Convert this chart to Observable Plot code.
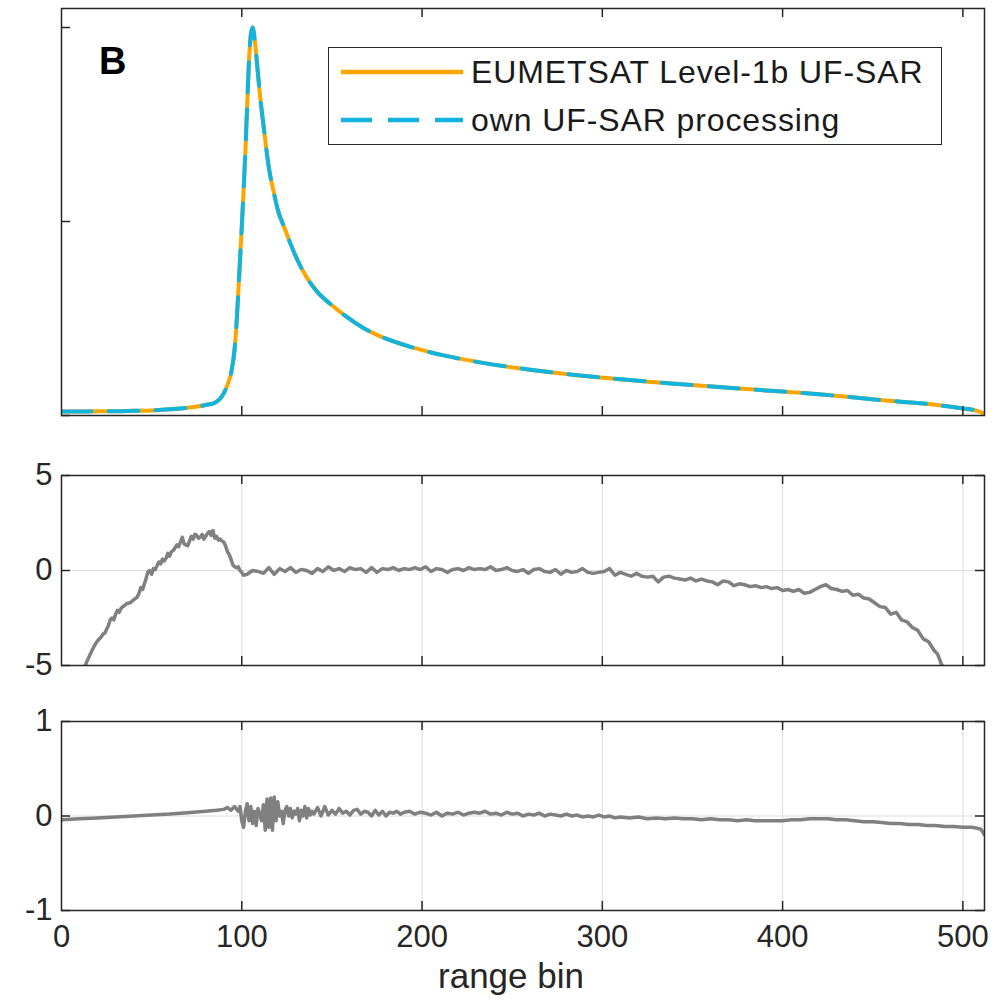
<!DOCTYPE html>
<html><head><meta charset="utf-8">
<script src="https://cdn.jsdelivr.net/npm/d3@7"></script>
<script src="https://cdn.jsdelivr.net/npm/@observablehq/plot@0.6"></script>
<style>
body{margin:0;background:#fff;font-family:"Liberation Sans",Arial,Helvetica,sans-serif;color:#262626;}
#wrap{position:relative;width:1007px;height:1001px;overflow:hidden;background:#fff;}
#wrap svg{overflow:visible;}
.abs{position:absolute;}
</style></head><body><div id="wrap"></div>
<script>
// ---------- data ----------
const xTicks = [0, 100, 200, 300, 400, 500];
const seriesNames = ["EUMETSAT Level-1b UF-SAR", "own UF-SAR processing"];
const seriesColors = ["#FFA500", "#10B4DE"];
const panelLetter = "B";
const xLabel = "range bin";

// top panel: normalised waveform [range bin, power]
const eumetsatWave = [[0,0.010],[10,0.010],[20,0.011],[30,0.011],[40,0.012],[50,0.013],[60,0.016],[70,0.020],[80,0.027],[85,0.033],[88,0.043],[90,0.057],[92,0.078],[94,0.108],[96,0.170],[97,0.230],[98,0.310],[99,0.400],[100,0.485],[101,0.580],[102,0.680],[103,0.800],[104,0.915],[105,0.980],[106,1.000],[107,0.975],[108,0.930],[109,0.880],[110,0.830],[112,0.750],[115,0.640],[118,0.570],[120,0.530],[124,0.480],[127,0.443],[132,0.390],[136,0.356],[142,0.318],[149,0.288],[158,0.255],[167,0.227],[180,0.198],[195,0.175],[212,0.155],[232,0.137],[260,0.118],[299,0.098],[340,0.082],[380,0.068],[420,0.055],[454,0.040],[480,0.030],[500,0.018],[508,0.012],[512,0.005]];
const ownWave = [[0,0.010],[10,0.010],[20,0.011],[30,0.011],[40,0.012],[50,0.013],[60,0.016],[70,0.020],[80,0.027],[85,0.033],[88,0.043],[90,0.057],[92,0.078],[94,0.108],[96,0.170],[97,0.230],[98,0.310],[99,0.400],[100,0.485],[101,0.580],[102,0.680],[103,0.800],[104,0.915],[105,0.980],[106,1.000],[107,0.975],[108,0.930],[109,0.880],[110,0.830],[112,0.750],[115,0.640],[118,0.570],[120,0.530],[124,0.480],[127,0.443],[132,0.390],[136,0.356],[142,0.318],[149,0.288],[158,0.255],[167,0.227],[180,0.198],[195,0.175],[212,0.155],[232,0.137],[260,0.118],[299,0.098],[340,0.082],[380,0.068],[420,0.055],[454,0.040],[480,0.030],[500,0.018],[508,0.012],[512,0.005]];

// middle panel: difference [range bin, value]
const diffA = [[12,-5.3],[14,-4.8],[16,-4.4],[18,-4.0],[20,-3.7],[22,-3.5],[23,-3.35],[24,-3.3],[26,-2.9],[27,-2.6],[28,-2.5],[29,-2.6],[30,-2.3],[31,-2.1],[32,-2.2],[33,-2.0],[34,-1.9],[35,-1.85],[36,-1.75],[38,-1.7],[40,-1.55],[42,-1.4],[43,-1.2],[44,-0.9],[45,-1.0],[46,-0.7],[47,-0.4],[48,-0.05],[49,0.0],[50,-0.2],[51,0.1],[52,0.05],[53,0.25],[54,0.45],[55,0.35],[56,0.6],[57,0.5],[58,0.65],[59,0.9],[60,0.75],[61,1.0],[62,1.05],[63,1.2],[64,1.35],[65,1.25],[66,1.5],[67,1.75],[68,1.4],[69,1.35],[70,1.3],[71,1.55],[72,1.8],[73,1.65],[74,1.9],[75,1.85],[76,1.7],[77,1.75],[78,1.9],[79,1.65],[80,1.8],[81,1.95],[82,2.05],[83,1.85],[84,2.1],[85,1.7],[86,1.8],[87,1.6],[88,1.65],[89,1.55],[90,1.5],[91,1.3],[92,1.0],[93,0.85],[94,0.6],[95,0.3],[96,0.2],[97,0.15],[98,0.2],[99,0.0],[100,-0.1],[101,-0.25],[103,-0.2],[106,0.0],[109,-0.05],[112,-0.15],[115,0.15],[118,-0.2],[121,0.1],[124,-0.05],[127,0.15],[130,-0.1],[133,0.05],[136,0.0],[139,-0.15],[142,0.1],[145,-0.05],[148,0.2],[151,0.0],[154,0.1],[157,-0.05],[160,0.15],[163,0.05],[166,0.1],[169,-0.1],[172,0.15],[175,-0.1],[178,0.1],[181,0.05],[184,0.15],[187,0.0],[190,0.1],[193,0.05],[196,0.15],[199,0.05],[202,0.2],[205,-0.05],[208,0.1],[211,0.05],[214,-0.1],[217,0.05],[220,0.1],[223,0.0],[226,0.15],[229,0.05],[232,0.1],[235,0.05],[238,0.2],[241,0.0],[244,0.05],[247,0.15],[250,0.0],[253,-0.05],[256,0.05],[259,-0.15],[262,0.05],[265,0.1],[268,-0.05],[271,-0.1],[274,0.05],[277,-0.2],[280,0.0],[283,-0.1],[286,-0.05],[289,0.1],[292,-0.1],[295,-0.15],[298,-0.1],[301,-0.05],[304,0.1],[307,-0.25],[310,-0.1],[313,-0.2],[316,-0.3],[319,-0.15],[322,-0.3],[325,-0.35],[328,-0.3],[331,-0.6],[334,-0.35],[337,-0.3],[340,-0.4],[343,-0.45],[346,-0.5],[349,-0.4],[352,-0.55],[355,-0.45],[358,-0.55],[361,-0.6],[364,-0.75],[367,-0.55],[370,-0.6],[373,-0.8],[376,-0.7],[379,-0.75],[382,-0.85],[385,-0.8],[388,-0.9],[391,-0.85],[394,-0.95],[397,-0.9],[400,-1.05],[403,-1.0],[406,-1.1],[409,-1.0],[412,-1.2],[415,-1.15],[418,-1.0],[421,-0.85],[424,-0.75],[427,-0.95],[430,-1.0],[433,-1.1],[436,-1.05],[439,-1.3],[442,-1.25],[445,-1.45],[448,-1.5],[451,-1.7],[454,-1.9],[457,-1.95],[460,-2.3],[463,-2.2],[466,-2.6],[469,-2.7],[472,-3.0],[475,-3.15],[478,-3.6],[481,-3.75],[484,-4.2],[486,-4.4],[488,-4.9],[490,-5.3]];

// bottom panel: difference [range bin, value]
const diffB = [[0,-0.04],[10,-0.03],[20,-0.02],[30,-0.01],[40,0.0],[50,0.01],[60,0.02],[70,0.035],[80,0.05],[86,0.06],[90,0.07],[92,0.09],[94,0.06],[96,0.1],[98,0.05],[99,0.1],[100,-0.05],[101,-0.12],[102,0.05],[103,0.13],[104,-0.05],[105,0.1],[106,-0.08],[107,0.05],[108,-0.1],[109,0.08],[110,0.02],[111,-0.05],[112,0.12],[113,-0.15],[114,0.18],[115,-0.12],[116,0.19],[117,-0.15],[118,0.2],[119,-0.05],[120,0.15],[121,0.0],[122,0.05],[123,-0.08],[124,0.06],[125,0.1],[126,0.0],[127,0.08],[128,-0.02],[129,0.05],[130,0.02],[131,0.08],[132,-0.05],[133,0.06],[134,0.0],[135,0.1],[136,-0.02],[137,0.08],[138,0.01],[139,0.05],[140,0.02],[142,0.09],[144,0.0],[146,0.1],[148,0.01],[150,0.06],[152,0.02],[154,0.08],[156,0.03],[158,0.05],[160,0.01],[162,0.06],[164,0.07],[166,0.02],[168,0.05],[170,0.04],[172,0.0],[174,0.06],[176,0.01],[178,0.05],[180,0.0],[182,0.04],[184,0.03],[186,0.05],[188,0.02],[190,0.04],[193,0.05],[196,0.02],[199,0.04],[202,0.03],[205,0.01],[208,0.04],[211,0.0],[214,0.03],[217,0.02],[220,0.04],[223,0.01],[226,0.03],[229,0.04],[232,0.03],[235,0.05],[238,0.02],[241,0.03],[244,0.01],[247,0.04],[250,0.02],[253,0.03],[256,0.0],[259,0.02],[262,0.01],[265,0.03],[268,0.0],[271,0.02],[274,0.01],[277,0.0],[280,0.02],[283,0.0],[286,0.01],[289,-0.01],[292,0.0],[295,-0.01],[298,0.01],[301,-0.01],[304,0.0],[307,-0.02],[310,-0.01],[315,-0.02],[320,-0.01],[325,-0.03],[330,-0.02],[335,-0.03],[340,-0.02],[345,-0.03],[350,-0.03],[355,-0.04],[360,-0.03],[365,-0.04],[370,-0.04],[375,-0.05],[380,-0.04],[385,-0.05],[390,-0.05],[395,-0.05],[400,-0.05],[405,-0.04],[410,-0.04],[415,-0.03],[420,-0.03],[425,-0.03],[430,-0.04],[435,-0.04],[440,-0.05],[445,-0.06],[450,-0.06],[455,-0.07],[460,-0.08],[465,-0.08],[470,-0.09],[475,-0.09],[480,-0.1],[485,-0.1],[490,-0.11],[495,-0.11],[500,-0.12],[505,-0.12],[508,-0.13],[510,-0.14],[511,-0.17],[512,-0.2]];

const topYTicks = [0, 0.5, 1];
const midYTicks = [-5, 0, 5];
const botYTicks = [-1, 0, 1];

// ---------- layout ----------
const W = 1007, ML = 61, MR = 23;
const frameW = W - ML - MR;
const FONT = '"Liberation Sans", Arial, Helvetica, sans-serif';
const INK = "#262626";
const wrap = document.getElementById("wrap");

function place(node, top) {
  node.style.position = "absolute";
  node.style.left = "0px";
  node.style.top = top + "px";
  node.style.overflow = "visible";
  wrap.appendChild(node);
}

function tickMarks(fh, yTicks, rightTicks) {
  const inner = xTicks.filter(d => d > 0);
  const st = {stroke: INK, strokeWidth: 1.5};
  const m = [
    Plot.tickX(inner, {x: d => d, insetTop: fh - 9, ...st}),
    Plot.tickX(inner, {x: d => d, insetBottom: fh - 9, ...st}),
    Plot.tickY(yTicks, {y: d => d, insetRight: frameW - 9, ...st})
  ];
  if (rightTicks) m.push(Plot.tickY(yTicks, {y: d => d, insetLeft: frameW - 9, ...st}));
  return m;
}

// top panel
{
  const H = 425, MT = 8, MB = 10, fh = H - MT - MB;
  const p = Plot.plot({
    width: W, height: H, marginLeft: ML, marginRight: MR, marginTop: MT, marginBottom: MB,
    style: {fontFamily: FONT, fontSize: "31px", color: INK, background: "transparent", overflow: "visible"},
    x: {domain: [0, 512], axis: null},
    y: {domain: [0, 1.049], axis: null},
    marks: [
      Plot.line(eumetsatWave, {x: d => d[0], y: d => d[1], stroke: seriesColors[0], strokeWidth: 4, curve: "monotone-x", clip: true}),
      Plot.line(ownWave, {x: d => d[0], y: d => d[1], stroke: seriesColors[1], strokeWidth: 4, strokeDasharray: "30,17", curve: "monotone-x", clip: true}),
      Plot.frame({stroke: INK, strokeWidth: 1.5}),
      ...tickMarks(fh, topYTicks, false)
    ]
  });
  place(p, 0);
}

// middle panel
{
  const H = 250, MT = 50, MB = 10, fh = H - MT - MB;
  const p = Plot.plot({
    width: W, height: H, marginLeft: ML, marginRight: MR, marginTop: MT, marginBottom: MB,
    style: {fontFamily: FONT, fontSize: "31px", color: INK, background: "transparent", overflow: "visible"},
    x: {domain: [0, 512], axis: null},
    y: {domain: [-5, 5], ticks: midYTicks, tickSize: 0, tickPadding: 9, tickFormat: d => String(d), label: null},
    marks: [
      Plot.gridX(xTicks.filter(d => d > 0), {stroke: "#dcdcdc", strokeOpacity: 1, strokeWidth: 1}),
      Plot.gridY([0], {stroke: "#dcdcdc", strokeOpacity: 1, strokeWidth: 1}),
      Plot.line(diffA, {x: d => d[0], y: d => d[1], stroke: "#808080", strokeWidth: 3.5, clip: true}),
      Plot.frame({stroke: INK, strokeWidth: 1.5}),
      ...tickMarks(fh, midYTicks, true)
    ]
  });
  place(p, 425);
}

// bottom panel
{
  const H = 326, MT = 46, MB = 91, fh = H - MT - MB;
  const p = Plot.plot({
    width: W, height: H, marginLeft: ML, marginRight: MR, marginTop: MT, marginBottom: MB,
    style: {fontFamily: FONT, fontSize: "31px", color: INK, background: "transparent", overflow: "visible"},
    x: {domain: [0, 512], ticks: xTicks, tickSize: 0, tickPadding: 14, tickFormat: d => String(d), label: null},
    y: {domain: [-1, 1], ticks: botYTicks, tickSize: 0, tickPadding: 9, tickFormat: d => String(d), label: null},
    marks: [
      Plot.gridX(xTicks.filter(d => d > 0), {stroke: "#dcdcdc", strokeOpacity: 1, strokeWidth: 1}),
      Plot.gridY([0], {stroke: "#dcdcdc", strokeOpacity: 1, strokeWidth: 1}),
      Plot.line(diffB, {x: d => d[0], y: d => d[1], stroke: "#808080", strokeWidth: 3.5, clip: true}),
      Plot.frame({stroke: INK, strokeWidth: 1.5}),
      ...tickMarks(fh, botYTicks, true)
    ]
  });
  place(p, 675);
}

// x label
{
  const d = document.createElement("div");
  d.className = "abs";
  d.textContent = xLabel;
  Object.assign(d.style, {left: "311px", width: "400px", top: "958px", textAlign: "center", fontSize: "35px", lineHeight: "35px", color: INK});
  wrap.appendChild(d);
}

// panel letter
{
  const d = document.createElement("div");
  d.className = "abs";
  d.textContent = panelLetter;
  Object.assign(d.style, {left: "99px", top: "42px", fontSize: "38px", lineHeight: "38px", fontWeight: "bold", color: "#000"});
  wrap.appendChild(d);
}

// legend
{
  const box = document.createElement("div");
  box.className = "abs";
  Object.assign(box.style, {left: "328px", top: "47px", width: "614px", height: "98px", border: "1.5px solid " + INK, background: "#fff", boxSizing: "border-box"});
  wrap.appendChild(box);
  const ys = [72, 120];
  seriesNames.forEach((name, i) => {
    const svg = document.createElementNS("http://www.w3.org/2000/svg", "svg");
    svg.setAttribute("width", "124"); svg.setAttribute("height", "10");
    Object.assign(svg.style, {position: "absolute", left: "340px", top: (ys[i] - 5) + "px"});
    const ln = document.createElementNS("http://www.w3.org/2000/svg", "line");
    ln.setAttribute("x1", "1"); ln.setAttribute("x2", "123"); ln.setAttribute("y1", "5"); ln.setAttribute("y2", "5");
    ln.setAttribute("stroke", seriesColors[i]); ln.setAttribute("stroke-width", "4.5");
    if (i === 1) ln.setAttribute("stroke-dasharray", "31,16");
    svg.appendChild(ln);
    wrap.appendChild(svg);
    const t = document.createElement("div");
    t.className = "abs";
    t.textContent = name;
    Object.assign(t.style, {left: "471px", top: (ys[i] - 16) + "px", fontSize: "32px", lineHeight: "32px", letterSpacing: "0.9px", color: "#1a1a1a", whiteSpace: "nowrap"});
    wrap.appendChild(t);
  });
}
</script></body></html>
